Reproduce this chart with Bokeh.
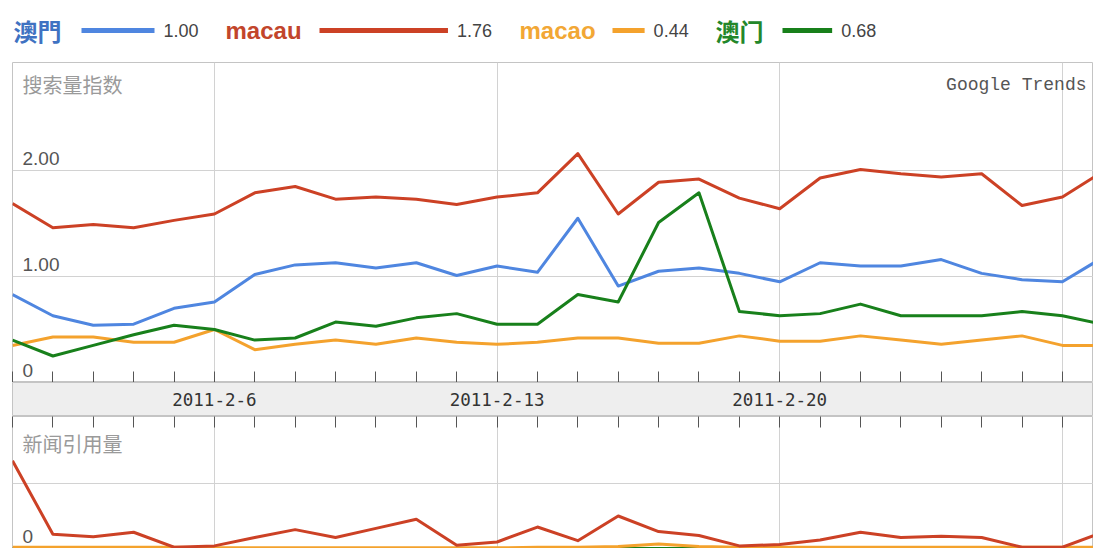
import pandas as pd
from bokeh.plotting import figure
from bokeh.layouts import column
from bokeh.models import Range1d, FixedTicker, Grid, ColumnDataSource, LinearAxis
from bokeh.core.properties import value
from bokeh.embed import file_html
from bokeh.resources import INLINE

# ---------------- data ----------------
dates = ["2011-02-01", "2011-02-02", "2011-02-03", "2011-02-04", "2011-02-05", "2011-02-06", "2011-02-07",
         "2011-02-08", "2011-02-09", "2011-02-10", "2011-02-11", "2011-02-12", "2011-02-13", "2011-02-14",
         "2011-02-15", "2011-02-16", "2011-02-17", "2011-02-18", "2011-02-19", "2011-02-20", "2011-02-21",
         "2011-02-22", "2011-02-23", "2011-02-24", "2011-02-25", "2011-02-26", "2011-02-27", "2011-02-28"]

series_names = ["澳門", "macau", "macao", "澳门"]
legend_averages = [1.00, 1.76, 0.44, 0.68]
legend_average_labels = ["1.00", "1.76", "0.44", "0.68"]

search_aomen_trad = [0.83, 0.63, 0.54, 0.55, 0.70, 0.76, 1.02, 1.11, 1.13, 1.08, 1.13, 1.01, 1.10, 1.04,
                     1.55, 0.91, 1.05, 1.08, 1.03, 0.95, 1.13, 1.10, 1.10, 1.16, 1.03, 0.97, 0.95, 1.18]
search_macau = [1.69, 1.46, 1.49, 1.46, 1.53, 1.59, 1.79, 1.85, 1.73, 1.75, 1.73, 1.68, 1.75, 1.79,
                2.16, 1.59, 1.89, 1.92, 1.74, 1.64, 1.93, 2.01, 1.97, 1.94, 1.97, 1.67, 1.75, 1.99]
search_macao = [0.35, 0.43, 0.43, 0.38, 0.38, 0.50, 0.31, 0.36, 0.40, 0.36, 0.42, 0.38, 0.36, 0.38,
                0.42, 0.42, 0.37, 0.37, 0.44, 0.39, 0.39, 0.44, 0.40, 0.36, 0.40, 0.44, 0.35, 0.35]
search_aomen_simp = [0.40, 0.25, 0.35, 0.45, 0.54, 0.50, 0.40, 0.42, 0.57, 0.53, 0.61, 0.65, 0.55, 0.55,
                     0.83, 0.76, 1.51, 1.79, 0.67, 0.63, 0.65, 0.74, 0.63, 0.63, 0.63, 0.67, 0.63, 0.55]

news_aomen_trad = [0.0] * 28
news_aomen_simp = [0.0] * 28
news_macao = [0.02, 0.02, 0.02, 0.02, 0.02, 0.01, 0.01, 0.01, 0.01, 0.01, 0.01, 0.01, 0.01, 0.02,
              0.02, 0.03, 0.07, 0.03, 0.02, 0.02, 0.02, 0.02, 0.02, 0.02, 0.02, 0.02, 0.02, 0.02]
news_macau = [1.35, 0.22, 0.18, 0.25, 0.02, 0.04, 0.17, 0.29, 0.17, 0.31, 0.45, 0.05, 0.10, 0.33,
              0.12, 0.50, 0.26, 0.20, 0.04, 0.06, 0.13, 0.25, 0.17, 0.19, 0.17, 0.02, 0.02, 0.25]

top_tick_values = [0, 1, 2]
top_tick_labels = ["0", "1.00", "2.00"]
bottom_tick_values = [0]
bottom_tick_labels = ["0"]
date_label_dates = ["2011-02-06", "2011-02-13", "2011-02-20"]
date_labels = ["2011-2-6", "2011-2-13", "2011-2-20"]
grid_dates = ["2011-02-06", "2011-02-13", "2011-02-20", "2011-02-27"]

# ---------------- style ----------------
line_colors = ["#4f86e0", "#cc4125", "#f4a22d", "#18801b"]
label_colors = ["#3f72c2", "#c2452b", "#f2a735", "#23872a"]
label_fonts = ["Noto Sans CJK TC", "Liberation Sans", "Liberation Sans", "Noto Sans CJK SC"]
legend_label_x = [13, 225, 519, 715]
legend_swatch_x = [81, 319, 612, 782]
swatch_px_per_unit = 73
GRID = "#d2d2d2"
W = 1093
LEFT = 12


def ms(s):
    return pd.Timestamp(s).value / 1e6


x_ms = [ms(d) for d in dates]
day = 86400000.0
xr = Range1d(start=x_ms[0], end=x_ms[0] + 26.77 * day)


def base_fig(h, yr):
    f = figure(width=W, height=h, x_range=xr, y_range=yr, output_backend="svg", toolbar_location=None,
               x_axis_location=None, y_axis_location=None, min_border_left=LEFT, min_border_right=0,
               min_border_top=0, min_border_bottom=0)
    f.grid.visible = False
    f.outline_line_color = "#c4c4c4"
    f.background_fill_color = "white"
    f.border_fill_color = "white"
    return f


def tick_axis():
    return LinearAxis(ticker=FixedTicker(ticks=x_ms), major_tick_in=11, major_tick_out=0,
                      major_tick_line_color="#555555", major_tick_line_width=1,
                      minor_tick_line_color=None, axis_line_color=None,
                      major_label_text_font_size="0px", major_label_standoff=0,
                      major_label_overrides={t: "" for t in x_ms})


# ---------------- legend ----------------
leg = figure(width=W, height=62, x_range=Range1d(LEFT, W), y_range=Range1d(0, 62), output_backend="svg",
             toolbar_location=None, x_axis_location=None, y_axis_location=None,
             min_border_left=LEFT, min_border_right=0, min_border_top=0, min_border_bottom=0)
leg.grid.visible = False
leg.outline_line_color = None
sw_end = [sx + a * swatch_px_per_unit for sx, a in zip(legend_swatch_x, legend_averages)]
leg_src = ColumnDataSource(dict(
    label=series_names, lx=legend_label_x, y=[32] * 4, color=label_colors, font=label_fonts,
    lcolor=line_colors, sx0=legend_swatch_x, sx1=sw_end, val=legend_average_labels,
    vx=[e + 9 for e in sw_end]))
leg.text(x="lx", y="y", text="label", text_color="color", text_font="font", text_font_size="24px",
         text_font_style="bold", text_baseline="middle", source=leg_src)
leg.segment(x0="sx0", y0="y", x1="sx1", y1="y", line_color="lcolor", line_width=5, source=leg_src)
leg.text(x="vx", y="y", text="val", text_color="#444444", text_font=value("Liberation Sans"),
         text_font_size="18px", text_baseline="middle", source=leg_src)

# ---------------- top panel ----------------
top = base_fig(320, Range1d(0, 3.02))
top.add_layout(Grid(dimension=0, ticker=FixedTicker(ticks=[ms(d) for d in grid_dates]), grid_line_color=GRID))
top.add_layout(Grid(dimension=1, ticker=FixedTicker(ticks=[1, 2]), grid_line_color=GRID))
top.add_layout(tick_axis(), "below")
for ys, c in zip([search_aomen_trad, search_macau, search_macao, search_aomen_simp], line_colors):
    top.line(x=x_ms, y=ys, line_color=c, line_width=3, line_join="round")
top.text(x=[xr.start] * 3, y=top_tick_values, text=top_tick_labels, x_offset=10, y_offset=-6,
         text_baseline="bottom", text_font=value("Liberation Sans"), text_font_size="19px",
         text_color="#555555")
top.text(x=[xr.start], y=[3.02], text=["搜索量指数"], x_offset=10, y_offset=22, text_baseline="middle",
         text_font=value("Noto Sans CJK SC"), text_font_size="20px", text_color="#9a9a9a")
top.text(x=[xr.end], y=[3.02], text=["Google Trends"], x_offset=-7, y_offset=22, text_baseline="middle",
         text_align="right", text_font=value("Liberation Mono"), text_font_size="18px",
         text_color="#555555")

# ---------------- date band ----------------
band = base_fig(34, Range1d(0, 1))
band.background_fill_color = "#eeeeee"
band.text(x=[ms(d) for d in date_label_dates], y=[0.5] * 3, text=date_labels, text_align="center",
          text_baseline="middle", text_font=value("DejaVu Sans Mono"), text_font_size="17.5px",
          text_color="#333333")

# ---------------- bottom panel ----------------
bot = base_fig(132, Range1d(0, 2.03))
bot.add_layout(Grid(dimension=0, ticker=FixedTicker(ticks=[ms(d) for d in grid_dates]), grid_line_color=GRID))
bot.add_layout(Grid(dimension=1, ticker=FixedTicker(ticks=[1]), grid_line_color=GRID))
bot.add_layout(tick_axis(), "above")
for ys, c in zip([news_aomen_trad, news_aomen_simp, news_macao, news_macau],
                 [line_colors[0], line_colors[3], line_colors[2], line_colors[1]]):
    bot.line(x=x_ms, y=ys, line_color=c, line_width=3, line_join="round")
bot.text(x=[xr.start], y=bottom_tick_values, text=bottom_tick_labels, x_offset=10, y_offset=-6,
         text_baseline="bottom", text_font=value("Liberation Sans"), text_font_size="19px",
         text_color="#555555")
bot.text(x=[xr.start], y=[2.03], text=["新闻引用量"], x_offset=10, y_offset=27, text_baseline="middle",
         text_font=value("Noto Sans CJK SC"), text_font_size="20px", text_color="#9a9a9a")

p = column(leg, top, band, bot, spacing=0)
open("out.html", "w").write(file_html(p, INLINE))
